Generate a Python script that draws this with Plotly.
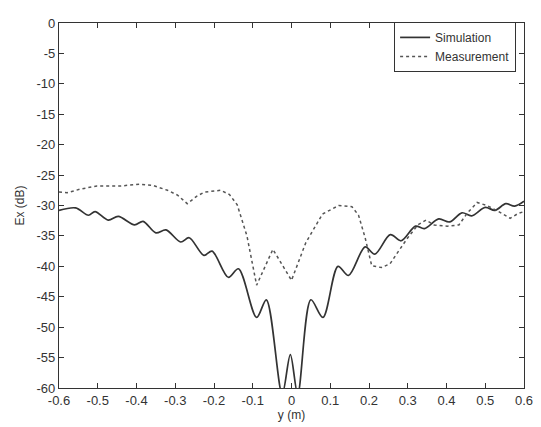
import plotly.graph_objects as go

# Simulation (solid)
sim_y = [-0.600, -0.557, -0.524, -0.507, -0.473, -0.447, -0.405, -0.383, -0.350, -0.324,
         -0.286, -0.264, -0.226, -0.205, -0.163, -0.137, -0.090, -0.065, -0.024, -0.003,
         0.016, 0.050, 0.081, 0.120, 0.147, 0.190, 0.215, 0.255, 0.283, 0.320,
         0.343, 0.380, 0.408, 0.440, 0.465, 0.500, 0.525, 0.553, 0.576, 0.600]
sim_db = [-30.8, -30.4, -31.6, -31.0, -32.4, -31.8, -33.2, -32.6, -34.5, -34.0,
          -36.0, -35.3, -38.2, -37.5, -41.8, -40.4, -48.4, -45.5, -61.0, -54.5,
          -61.0, -45.5, -48.4, -40.0, -41.5, -36.8, -38.0, -34.8, -35.8, -33.4,
          -33.8, -32.2, -32.7, -31.2, -31.7, -30.3, -30.8, -29.7, -30.1, -29.3]

# Measurement (dotted)
meas_y = [-0.600, -0.579, -0.545, -0.502, -0.443, -0.392, -0.358, -0.320, -0.294, -0.269,
          -0.245, -0.225, -0.183, -0.160, -0.140, -0.115, -0.090, -0.048, 0.000, 0.037,
          0.080, 0.122, 0.156, 0.173, 0.190, 0.207, 0.232, 0.254, 0.271, 0.300,
          0.326, 0.347, 0.368, 0.402, 0.432, 0.453, 0.479, 0.504, 0.529, 0.551,
          0.564, 0.585, 0.600]
meas_db = [-27.8, -27.9, -27.3, -26.8, -26.8, -26.5, -26.7, -27.5, -28.3, -29.7,
           -28.5, -27.8, -27.5, -28.2, -29.9, -35.0, -43.1, -37.2, -42.3, -36.1,
           -31.4, -30.0, -30.2, -31.6, -35.3, -39.9, -40.2, -39.6, -38.0, -35.3,
           -33.2, -32.4, -33.2, -33.4, -33.2, -31.3, -29.5, -30.0, -30.8, -31.6,
           -32.1, -31.3, -31.0]

x_ticks = [-0.6, -0.5, -0.4, -0.3, -0.2, -0.1, 0, 0.1, 0.2, 0.3, 0.4, 0.5, 0.6]
x_labels = ["-0.6", "-0.5", "-0.4", "-0.3", "-0.2", "-0.1", "0", "0.1", "0.2", "0.3", "0.4", "0.5", "0.6"]
y_ticks = [0, -5, -10, -15, -20, -25, -30, -35, -40, -45, -50, -55, -60]
y_labels = [str(v) for v in y_ticks]

fig = go.Figure()
fig.add_trace(go.Scatter(x=sim_y, y=sim_db, mode="lines", name="Simulation",
                         line=dict(color="#333333", width=1.7, shape="spline", smoothing=0.9)))
fig.add_trace(go.Scatter(x=meas_y, y=meas_db, mode="lines", name="Measurement",
                         line=dict(color="#555555", width=1.5, dash="3px,3px")))

font = "Liberation Sans, Arial, sans-serif"
fig.update_layout(
    width=533, height=419,
    margin=dict(l=51, r=10, t=8, b=39),
    paper_bgcolor="white", plot_bgcolor="white",
    font=dict(family=font, size=12, color="#333333"),
    showlegend=True,
    legend=dict(x=0.983, y=1.003, xanchor="right", yanchor="top",
                bordercolor="#333333", borderwidth=1, bgcolor="white",
                font=dict(size=12, color="#333333"), itemwidth=30,
                tracegroupgap=0),
)
fig.update_xaxes(range=[-0.6, 0.6], tickvals=x_ticks, ticktext=x_labels,
                 ticks="inside", ticklen=5, tickcolor="#333", mirror="ticks",
                 showline=True, linecolor="#333", linewidth=1.2, showgrid=False,
                 zeroline=False, title=dict(text="y (m)", standoff=2,
                                            font=dict(size=12, color="#333333")),
                 tickfont=dict(size=13))
fig.update_yaxes(range=[-60, 0], tickvals=y_ticks, ticktext=y_labels,
                 ticks="inside", ticklen=5, tickcolor="#333", mirror="ticks",
                 showline=True, linecolor="#333", linewidth=1.2, showgrid=False,
                 zeroline=False, title=dict(text="Ex (dB)", standoff=9,
                                            font=dict(size=12, color="#333333")),
                 tickfont=dict(size=13))

fig.write_html("out.html")
